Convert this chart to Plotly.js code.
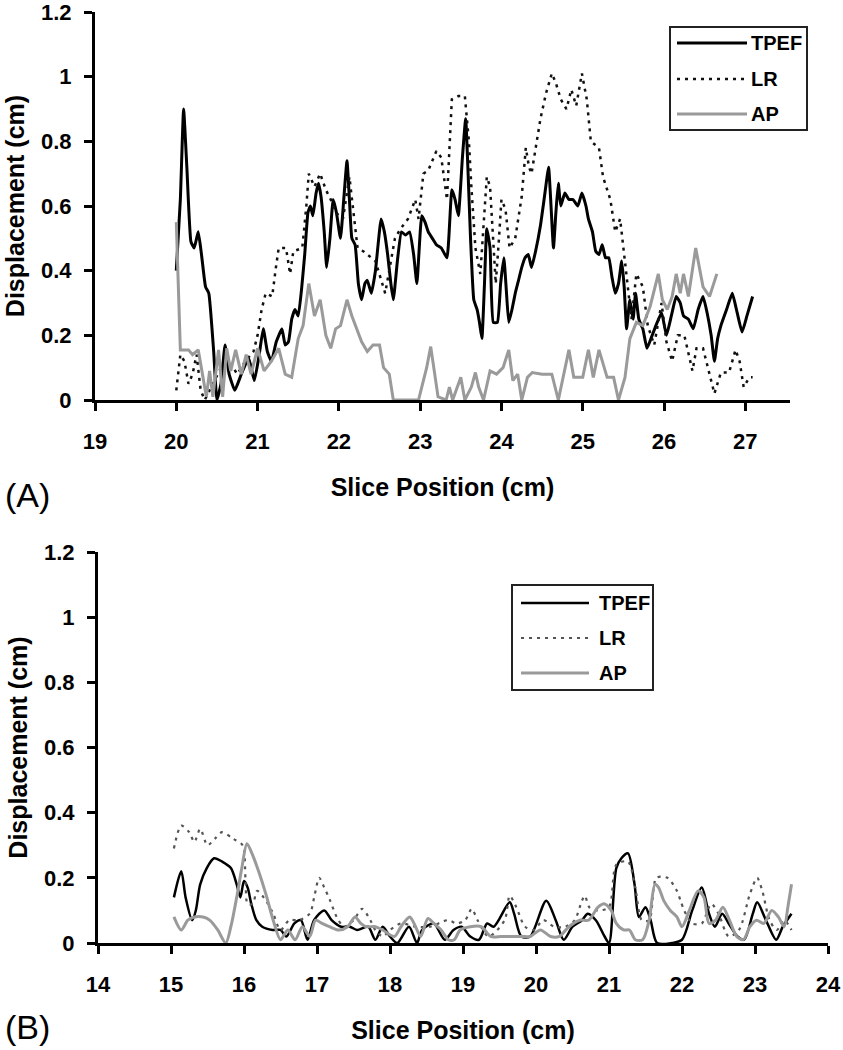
<!DOCTYPE html>
<html>
<head>
<meta charset="utf-8">
<script src="https://cdn.plot.ly/plotly-3.0.1.min.js"></script>
<style>html,body{margin:0;padding:0;background:#fff;}#chart{width:843px;height:1050px;}</style>
</head>
<body>
<div id="chart"></div>
<script>
// ---- Panel A data ----
const aTpefX = [20.0,20.05,20.09,20.13,20.18,20.22,20.27,20.31,20.36,20.4,20.46,20.5,20.55,20.6,20.65,20.72,20.8,20.89,20.96,21.02,21.07,21.12,21.17,21.23,21.3,21.34,21.38,21.42,21.46,21.5,21.54,21.58,21.62,21.65,21.68,21.72,21.75,21.78,21.82,21.85,21.89,21.93,21.97,22.02,22.06,22.1,22.13,22.16,22.2,22.24,22.28,22.32,22.35,22.4,22.45,22.52,22.56,22.6,22.64,22.67,22.72,22.77,22.82,22.87,22.92,22.96,23.02,23.06,23.1,23.15,23.2,23.26,23.33,23.39,23.43,23.47,23.52,23.56,23.59,23.62,23.66,23.7,23.73,23.76,23.79,23.82,23.86,23.9,23.95,23.99,24.03,24.06,24.09,24.13,24.17,24.21,24.25,24.29,24.33,24.37,24.42,24.48,24.53,24.58,24.61,24.64,24.67,24.7,24.73,24.78,24.83,24.88,24.94,24.99,25.04,25.07,25.12,25.16,25.2,25.24,25.28,25.32,25.36,25.4,25.44,25.48,25.51,25.54,25.58,25.62,25.65,25.69,25.74,25.79,25.84,25.9,25.97,26.03,26.09,26.15,26.2,26.24,26.3,26.36,26.42,26.48,26.53,26.58,26.62,26.66,26.7,26.77,26.84,26.9,26.96,27.02,27.09];
const aTpefY = [0.40,0.62,0.90,0.72,0.49,0.47,0.52,0.45,0.35,0.33,0.15,0.0,0.05,0.17,0.08,0.03,0.08,0.13,0.06,0.14,0.22,0.15,0.12,0.18,0.22,0.17,0.18,0.25,0.28,0.26,0.34,0.45,0.58,0.60,0.57,0.64,0.67,0.63,0.52,0.41,0.50,0.62,0.58,0.50,0.62,0.74,0.62,0.50,0.48,0.36,0.31,0.36,0.37,0.33,0.40,0.56,0.52,0.45,0.36,0.31,0.43,0.52,0.51,0.52,0.45,0.36,0.57,0.55,0.52,0.50,0.48,0.47,0.44,0.65,0.62,0.57,0.75,0.87,0.70,0.50,0.31,0.28,0.24,0.19,0.35,0.53,0.47,0.24,0.24,0.36,0.44,0.34,0.24,0.28,0.33,0.37,0.41,0.44,0.45,0.41,0.46,0.54,0.63,0.72,0.60,0.47,0.58,0.67,0.60,0.64,0.62,0.62,0.60,0.64,0.60,0.56,0.52,0.46,0.45,0.48,0.44,0.44,0.38,0.33,0.36,0.43,0.35,0.22,0.31,0.25,0.33,0.25,0.22,0.16,0.19,0.23,0.27,0.20,0.26,0.32,0.30,0.26,0.25,0.22,0.28,0.32,0.27,0.20,0.12,0.19,0.23,0.28,0.33,0.27,0.21,0.26,0.32];
const aLrX = [20.0,20.05,20.1,20.15,20.2,20.25,20.3,20.35,20.45,20.55,20.65,20.75,20.85,20.95,21.0,21.05,21.1,21.18,21.22,21.26,21.35,21.4,21.44,21.55,21.6,21.63,21.7,21.77,21.84,21.9,21.96,22.05,22.13,22.18,22.23,22.3,22.35,22.45,22.57,22.63,22.69,22.76,22.85,22.94,22.98,23.04,23.1,23.15,23.2,23.26,23.33,23.39,23.47,23.55,23.6,23.63,23.68,23.74,23.78,23.82,23.86,23.9,23.93,23.97,24.0,24.05,24.1,24.17,24.25,24.3,24.34,24.37,24.43,24.48,24.55,24.62,24.67,24.73,24.8,24.86,24.92,24.99,25.05,25.1,25.2,25.25,25.34,25.4,25.46,25.5,25.54,25.6,25.66,25.74,25.8,25.88,25.97,26.03,26.1,26.17,26.25,26.35,26.4,26.48,26.55,26.62,26.7,26.8,26.88,26.93,26.98,27.05,27.09];
const aLrY = [0.03,0.14,0.12,0.05,0.08,0.14,0.03,0.0,0.05,0.10,0.12,0.08,0.12,0.15,0.20,0.28,0.33,0.32,0.40,0.47,0.47,0.39,0.46,0.47,0.60,0.70,0.66,0.70,0.65,0.62,0.58,0.56,0.69,0.58,0.47,0.46,0.45,0.43,0.33,0.42,0.50,0.53,0.56,0.62,0.56,0.70,0.71,0.74,0.77,0.75,0.62,0.93,0.94,0.94,0.80,0.66,0.47,0.39,0.55,0.69,0.66,0.50,0.36,0.50,0.62,0.59,0.47,0.50,0.63,0.78,0.72,0.70,0.80,0.87,0.95,1.01,0.98,0.93,0.90,0.96,0.91,1.01,0.93,0.80,0.78,0.69,0.62,0.52,0.56,0.47,0.37,0.25,0.39,0.35,0.23,0.17,0.30,0.18,0.12,0.20,0.20,0.09,0.16,0.16,0.09,0.02,0.085,0.085,0.155,0.12,0.04,0.07,0.07];
const aApX = [20.0,20.02,20.05,20.15,20.2,20.27,20.33,20.37,20.41,20.45,20.52,20.57,20.62,20.67,20.73,20.8,20.86,20.92,21.0,21.08,21.17,21.26,21.34,21.42,21.5,21.56,21.63,21.7,21.77,21.84,21.9,21.96,22.02,22.1,22.16,22.22,22.28,22.35,22.42,22.5,22.55,22.62,22.67,22.98,23.08,23.13,23.18,23.22,23.32,23.36,23.4,23.5,23.55,23.63,23.68,23.72,23.78,23.86,23.94,24.02,24.09,24.14,24.2,24.25,24.32,24.38,24.5,24.62,24.7,24.78,24.83,24.89,25.0,25.07,25.13,25.2,25.3,25.38,25.44,25.52,25.58,25.66,25.74,25.83,25.93,25.98,26.04,26.1,26.15,26.2,26.24,26.3,26.39,26.48,26.56,26.65];
const aApY = [0.55,0.40,0.155,0.155,0.14,0.155,0.06,0.01,0.09,0.01,0.155,0.01,0.16,0.09,0.155,0.08,0.14,0.08,0.16,0.09,0.12,0.16,0.08,0.07,0.19,0.23,0.36,0.26,0.31,0.20,0.16,0.22,0.23,0.31,0.26,0.22,0.18,0.15,0.17,0.17,0.10,0.08,0.0,0.0,0.10,0.165,0.08,0.01,0.0,0.04,0.0,0.07,0.0,0.04,0.085,0.04,0.0,0.09,0.08,0.10,0.155,0.06,0.08,0.0,0.07,0.085,0.08,0.08,0.0,0.10,0.155,0.07,0.07,0.155,0.07,0.155,0.07,0.07,0.0,0.07,0.19,0.24,0.23,0.29,0.39,0.31,0.28,0.32,0.39,0.33,0.39,0.32,0.47,0.35,0.32,0.39];

// ---- Panel B data ----
const bTpefX = [15.04,15.14,15.2,15.29,15.34,15.4,15.49,15.59,15.7,15.82,15.9,15.95,16.0,16.05,16.1,16.17,16.25,16.39,16.5,16.58,16.69,16.78,16.87,16.96,17.1,17.2,17.33,17.45,17.55,17.7,17.8,17.9,18.0,18.1,18.26,18.37,18.44,18.6,18.75,18.87,18.98,19.1,19.22,19.33,19.42,19.64,19.7,19.8,19.92,20.14,20.27,20.38,20.5,20.63,20.71,20.82,20.94,21.0,21.1,21.17,21.26,21.35,21.41,21.5,21.57,21.66,21.86,22.0,22.14,22.27,22.37,22.45,22.55,22.64,22.76,22.85,22.97,23.03,23.15,23.29,23.38,23.5];
const bTpefY = [0.14,0.22,0.14,0.07,0.10,0.18,0.23,0.26,0.25,0.23,0.18,0.14,0.19,0.17,0.12,0.07,0.05,0.04,0.04,0.02,0.06,0.07,0.01,0.07,0.10,0.07,0.05,0.05,0.04,0.05,0.01,0.05,0.02,0.0,0.05,0.0,0.04,0.06,0.01,0.04,0.05,0.02,0.01,0.06,0.05,0.125,0.09,0.02,0.02,0.13,0.07,0.01,0.05,0.07,0.09,0.07,0.02,0.0,0.23,0.26,0.275,0.18,0.08,0.11,0.07,0.0,0.0,0.01,0.10,0.17,0.09,0.05,0.09,0.06,0.02,0.01,0.09,0.125,0.07,0.01,0.05,0.09];
const bLrX = [15.04,15.14,15.25,15.32,15.4,15.5,15.6,15.7,15.85,15.98,16.02,16.05,16.12,16.18,16.3,16.4,16.5,16.62,16.75,16.9,16.97,17.03,17.1,17.18,17.27,17.37,17.5,17.62,17.73,17.8,17.9,18.0,18.15,18.35,18.55,18.79,18.92,19.03,19.12,19.2,19.35,19.57,19.64,19.73,19.85,19.97,20.1,20.25,20.4,20.53,20.63,20.67,20.73,20.85,21.0,21.1,21.26,21.36,21.45,21.55,21.65,21.8,21.93,21.98,22.03,22.14,22.27,22.4,22.5,22.64,22.78,22.93,23.03,23.1,23.2,23.3,23.4,23.5];
const bLrY = [0.29,0.36,0.34,0.31,0.35,0.30,0.32,0.34,0.32,0.30,0.20,0.12,0.12,0.16,0.13,0.09,0.04,0.07,0.07,0.09,0.15,0.20,0.17,0.13,0.08,0.05,0.07,0.105,0.07,0.04,0.02,0.04,0.06,0.05,0.05,0.07,0.06,0.07,0.105,0.07,0.02,0.07,0.145,0.11,0.05,0.04,0.07,0.05,0.05,0.07,0.13,0.145,0.11,0.10,0.11,0.24,0.25,0.17,0.07,0.07,0.20,0.20,0.16,0.13,0.10,0.06,0.06,0.12,0.09,0.02,0.04,0.15,0.20,0.16,0.07,0.04,0.07,0.04];
const bApX = [15.04,15.14,15.23,15.32,15.44,15.53,15.64,15.75,15.82,15.9,15.97,16.04,16.1,16.2,16.3,16.4,16.5,16.6,16.7,16.8,16.9,16.98,17.07,17.17,17.3,17.42,17.52,17.6,17.67,17.8,17.9,18.06,18.15,18.27,18.35,18.42,18.52,18.6,18.7,18.8,18.88,18.96,19.1,19.25,19.38,19.52,19.66,19.8,19.92,20.06,20.2,20.32,20.45,20.6,20.72,20.85,20.94,21.03,21.1,21.2,21.28,21.36,21.46,21.55,21.63,21.68,21.75,21.84,21.93,22.0,22.1,22.22,22.3,22.37,22.46,22.56,22.65,22.75,22.84,22.93,23.02,23.12,23.23,23.32,23.4,23.45,23.5];
const bApY = [0.08,0.04,0.07,0.08,0.08,0.07,0.04,0.0,0.05,0.14,0.23,0.305,0.28,0.22,0.15,0.07,0.01,0.04,0.01,0.05,0.02,0.07,0.06,0.05,0.04,0.05,0.08,0.06,0.05,0.05,0.04,0.02,0.05,0.08,0.05,0.02,0.075,0.06,0.04,0.01,0.01,0.04,0.05,0.05,0.02,0.02,0.02,0.02,0.02,0.04,0.02,0.02,0.05,0.07,0.07,0.11,0.12,0.10,0.06,0.04,0.04,0.01,0.01,0.07,0.18,0.17,0.13,0.10,0.08,0.05,0.10,0.16,0.14,0.06,0.07,0.11,0.07,0.02,0.01,0.05,0.07,0.06,0.10,0.08,0.05,0.11,0.18];

const seriesNames = ['TPEF', 'LR', 'AP'];
const yTickVals = [0, 0.2, 0.4, 0.6, 0.8, 1, 1.2];
const yTickText = ['0', '0.2', '0.4', '0.6', '0.8', '1', '1.2'];
const aXTicks = [19, 20, 21, 22, 23, 24, 25, 26, 27];
const bXTicks = [14, 15, 16, 17, 18, 19, 20, 21, 22, 23, 24];

const W = 843, H = 1050;
const px = x => x / W;
const py = y => 1 - y / H;

const GRAY = '#9a9a9a';
const FONT = 'Liberation Sans, Arial, sans-serif';

const traces = [
  {x: aTpefX, y: aTpefY, name: seriesNames[0], mode: 'lines', line: {color: '#000', width: 3, shape: 'spline', smoothing: 0.4}, xaxis: 'x', yaxis: 'y'},
  {x: aLrX, y: aLrY, name: seriesNames[1], mode: 'lines', line: {color: '#111', width: 2.5, dash: '3px,5px'}, xaxis: 'x', yaxis: 'y'},
  {x: aApX, y: aApY, name: seriesNames[2], mode: 'lines', line: {color: GRAY, width: 3}, xaxis: 'x', yaxis: 'y'},
  {x: bTpefX, y: bTpefY, name: seriesNames[0], mode: 'lines', line: {color: '#000', width: 2.5, shape: 'spline', smoothing: 0.8}, xaxis: 'x2', yaxis: 'y2'},
  {x: bLrX, y: bLrY, name: seriesNames[1], mode: 'lines', line: {color: '#555', width: 2.2, dash: '3px,5px', shape: 'spline', smoothing: 0.8}, xaxis: 'x2', yaxis: 'y2'},
  {x: bApX, y: bApY, name: seriesNames[2], mode: 'lines', line: {color: GRAY, width: 3, shape: 'spline', smoothing: 0.8}, xaxis: 'x2', yaxis: 'y2'}
];
traces.forEach(t => { t.showlegend = false; t.hoverinfo = 'skip'; });

const tickFont = {family: FONT, size: 22, color: '#000', weight: 'bold'};
const titleFont = {family: FONT, size: 25, color: '#000', weight: 'bold'};

function xAxis(range, ticks, domain, anchor) {
  return {
    domain: domain, range: range, anchor: anchor,
    tickmode: 'array', tickvals: ticks, ticktext: ticks.map(String),
    showline: true, linecolor: '#000', linewidth: 3, mirror: false,
    ticks: 'outside', ticklen: 8, tickwidth: 3, tickcolor: '#000',
    showgrid: false, zeroline: false, tickfont: tickFont, ticklabelstandoff: 12,
    ticklabeloverflow: 'allow',
    title: {text: 'Slice Position (cm)', font: titleFont, standoff: 26}
  };
}
function yAxis(domain, anchor) {
  return {
    domain: domain, range: [0, 1.2], anchor: anchor,
    tickmode: 'array', tickvals: yTickVals, ticktext: yTickText,
    showline: true, linecolor: '#000', linewidth: 3,
    ticks: 'outside', ticklen: 8, tickwidth: 3, tickcolor: '#000',
    showgrid: false, zeroline: false, tickfont: tickFont, ticklabelstandoff: 8,
    ticklabeloverflow: 'allow',
    title: {text: 'Displacement (cm)', font: titleFont, standoff: 10}
  };
}

// legend boxes (drawn manually to match the reference's long line samples)
function legendShapes(x0, y0, x1, y1, lx0, lx1, rows, styles) {
  const s = [{type: 'rect', xref: 'paper', yref: 'paper', x0: px(x0), x1: px(x1), y0: py(y0), y1: py(y1), line: {color: '#222', width: 2}, fillcolor: 'rgba(255,255,255,0)'}];
  rows.forEach((ry, i) => {
    s.push({type: 'line', xref: 'paper', yref: 'paper', x0: px(lx0), x1: px(lx1), y0: py(ry), y1: py(ry), line: styles[i]});
  });
  return s;
}
function legendTexts(tx, rows) {
  return rows.map((ry, i) => ({xref: 'paper', yref: 'paper', x: px(tx), y: py(ry), xanchor: 'left', yanchor: 'middle', text: seriesNames[i], showarrow: false, font: {family: FONT, size: 20, color: '#000', weight: 'bold'}}));
}
const aRows = [43, 79, 114];
const bRows = [603, 638, 673];
const shapes = [].concat(
  legendShapes(670, 27, 807, 130, 677, 747, aRows, [{color: '#000', width: 3}, {color: '#111', width: 2.5, dash: '3px,5px'}, {color: GRAY, width: 3}]),
  legendShapes(512, 585, 653, 690, 521, 589, bRows, [{color: '#000', width: 2.5}, {color: '#555', width: 2.2, dash: '3px,5px'}, {color: GRAY, width: 3}])
);
const annotations = [].concat(
  legendTexts(749, aRows),
  legendTexts(597, bRows),
  [
    {xref: 'paper', yref: 'paper', x: px(3), y: py(495), xanchor: 'left', yanchor: 'middle', text: '(A)', showarrow: false, font: {family: FONT, size: 34, color: '#000'}},
    {xref: 'paper', yref: 'paper', x: px(3), y: py(1027), xanchor: 'left', yanchor: 'middle', text: '(B)', showarrow: false, font: {family: FONT, size: 34, color: '#000'}}
  ]
);

const layout = {
  width: W, height: H,
  margin: {l: 0, r: 0, t: 0, b: 0},
  paper_bgcolor: '#fff', plot_bgcolor: '#fff',
  showlegend: false,
  xaxis: xAxis([19, 27.55], aXTicks, [px(95), px(790)], 'y'),
  yaxis: yAxis([py(400), py(12)], 'x'),
  xaxis2: xAxis([14, 24], bXTicks, [px(98), px(828)], 'y2'),
  yaxis2: yAxis([py(943), py(552)], 'x2'),
  shapes: shapes,
  annotations: annotations
};

Plotly.newPlot('chart', traces, layout, {staticPlot: true, displayModeBar: false});
</script>
</body>
</html>
